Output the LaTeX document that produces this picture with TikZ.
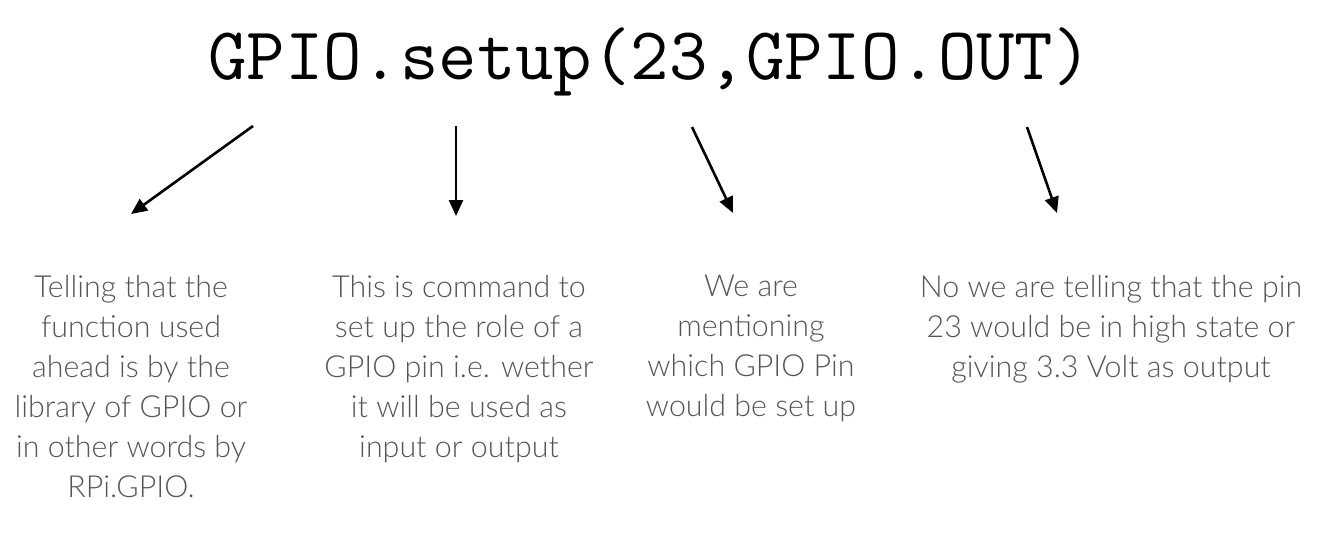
\documentclass[tikz,border=0pt]{standalone}
\usepackage{fontspec}
\newfontfamily\descfont{Lato Light}
\usetikzlibrary{arrows.meta}
\definecolor{descgray}{HTML}{555555}
\tikzset{
  call/.style={font=\ttfamily\fontsize{37.3}{37}\selectfont},
  desc/.style={anchor=north, align=center, text=descgray, inner sep=0pt,
    font=\descfont\fontsize{15.2}{20}\selectfont},
  pointer/.style={line width=1.3pt, -{Triangle[length=8pt,width=7pt]}}
}
\begin{document}
\begin{tikzpicture}[x=0.5pt,y=-0.5pt]
\useasboundingbox (0,0) rectangle (1331,532);
\path node[call] (setup) at (650,62) {GPIO.setup(23,GPIO.OUT)}
coordinate (libtop) at (253,126)
coordinate (cmdtop) at (456,126)
coordinate (pintop) at (692,127)
coordinate (outtop) at (1027,127)
coordinate (libend) at (131,214)
coordinate (cmdend) at (456,216)
coordinate (pinend) at (733,213)
coordinate (outend) at (1057,213)
node[desc] (lib) at (131,275) {Telling that the\\function used\\ahead is by the\\library of GPIO or\\in other words by\\RPi.GPIO.}
node[desc] (cmd) at (459,275) {This is command to\\set up the role of a\\GPIO pin i.e. wether\\it will be used as\\input or output}
node[desc] (pin) at (751,275) {We are\\mentioning\\which GPIO Pin\\would be set up}
node[desc] (out) at (1111,275) {No we are telling that the pin\\23 would be in high state or\\giving 3.3 Volt as output}
;
\draw[pointer] (libtop) -- (libend);
\draw[pointer] (cmdtop) -- (cmdend);
\draw[pointer] (pintop) -- (pinend);
\draw[pointer] (outtop) -- (outend);
\end{tikzpicture}
\end{document}
